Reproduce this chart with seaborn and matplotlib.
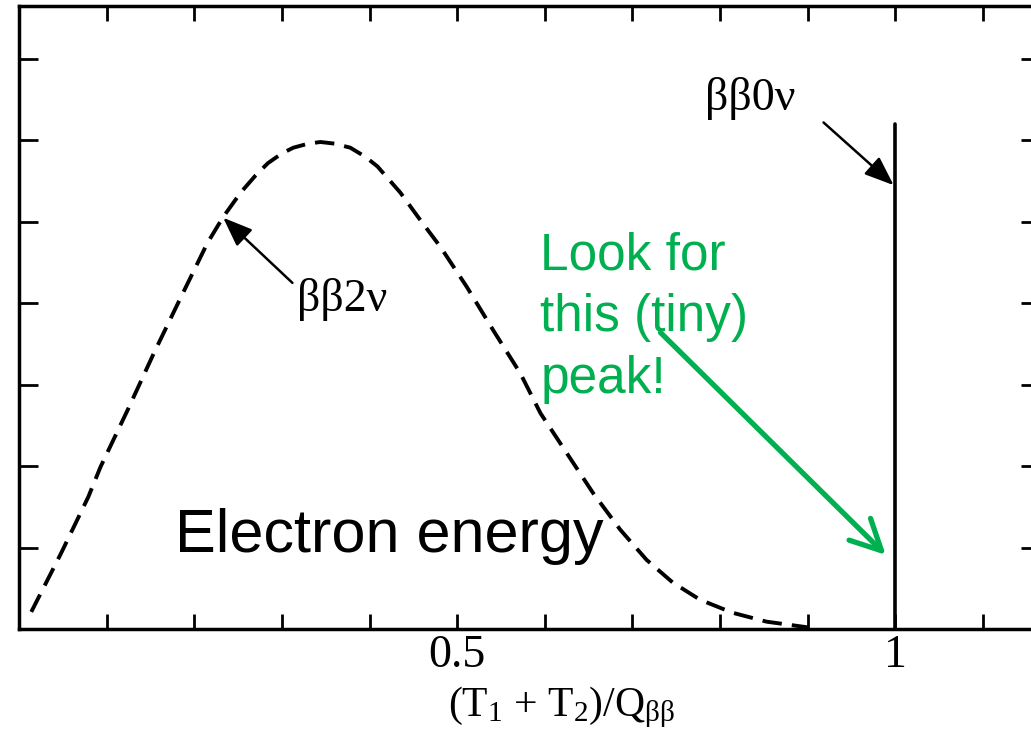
import matplotlib
matplotlib.use("Agg")
import matplotlib.pyplot as plt
import seaborn as sns
import pandas as pd
import numpy as np

# --- data ---
x_2nu = [0.014, 0.048, 0.079, 0.093, 0.124, 0.154, 0.185, 0.215, 0.233, 0.253,
         0.270, 0.284, 0.300, 0.313, 0.330, 0.344, 0.360, 0.378, 0.395, 0.409,
         0.435, 0.458, 0.481, 0.511, 0.541, 0.572, 0.595, 0.625, 0.655, 0.686,
         0.716, 0.746, 0.777, 0.814, 0.853, 0.880, 0.900]
y_2nu = [0.21, 0.93, 1.62, 1.99, 2.69, 3.39, 4.08, 4.74, 5.06, 5.36,
         5.57, 5.72, 5.84, 5.91, 5.96, 5.98, 5.96, 5.91, 5.80, 5.68,
         5.36, 5.02, 4.69, 4.20, 3.67, 3.14, 2.65, 2.16, 1.67, 1.22,
         0.85, 0.57, 0.36, 0.20, 0.09, 0.05, 0.02]
x_0nu = [1.0, 1.0]
y_0nu = [0.0, 6.2]
xtick_major = [0.5, 1.0]
xtick_labels = ["0.5", "1"]
xtick_minor = [0.1, 0.2, 0.3, 0.4, 0.6, 0.7, 0.8, 0.9, 1.1]
ytick_pos = [1, 2, 3, 4, 5, 6, 7]

sns.set_theme(style="white")
plt.rcParams["font.family"] = ["Liberation Serif", "DejaVu Serif"]
plt.rcParams["mathtext.fontset"] = "custom"
plt.rcParams["mathtext.rm"] = "Liberation Serif"
plt.rcParams["mathtext.it"] = "Liberation Serif"

W, H = 1031, 739
fig = plt.figure(figsize=(W / 100, H / 100), dpi=100)
ax = fig.add_axes([19 / W, (H - 629) / H, 1021 / W, 623 / H])

df2 = pd.DataFrame({"x": x_2nu, "y": y_2nu})
sns.lineplot(data=df2, x="x", y="y", ax=ax, sort=False, estimator=None,
             color="black", lw=2.8, linestyle=(0, (5, 2.6)))
df0 = pd.DataFrame({"x": x_0nu, "y": y_0nu})
sns.lineplot(data=df0, x="x", y="y", ax=ax, sort=False, estimator=None,
             color="black", lw=2.6)

ax.set_xlim(0, 1.165)
ax.set_ylim(0, 7.65)

for s in ax.spines.values():
    s.set_linewidth(2.5)
    s.set_color("black")

ax.set_xticks(xtick_major)
ax.set_xticklabels(xtick_labels)
ax.set_xticks(xtick_minor, minor=True)
ax.set_yticks(ytick_pos)
ax.set_yticklabels([])
ax.tick_params(axis="x", which="both", direction="in", top=True, bottom=True,
               length=11, width=2, color="black", labelsize=33, pad=4,
               labelcolor="black")
ax.tick_params(axis="y", which="both", direction="in", left=True, right=True,
               length=14, width=2, color="black")
ax.set_ylabel("")
ax.set_xlabel(r"(T$_1$ + T$_2$)/Q$_{\beta\beta}$", fontsize=30, color="black")
ax.xaxis.set_label_coords(0.531, -0.090)
ax.xaxis.label.set_va("top")

# annotations
ax.annotate("", xy=(0.998, 5.45), xytext=(0.918, 6.22),
            arrowprops=dict(arrowstyle="-|>,head_length=0.9,head_width=0.35",
                            color="black", lw=1.8, shrinkA=0, shrinkB=0,
                            mutation_scale=20))
ax.text(0.834, 6.52, "ββ0ν", fontsize=33, ha="center", va="center", color="black")
ax.annotate("", xy=(0.233, 5.05), xytext=(0.312, 4.25),
            arrowprops=dict(arrowstyle="-|>,head_length=0.9,head_width=0.35",
                            color="black", lw=1.8, shrinkA=0, shrinkB=0,
                            mutation_scale=20))
ax.text(0.369, 4.04, "ββ2ν", fontsize=33, ha="center", va="center", color="black")

green = "#00B050"
ax.text(0.595, 2.90, "Look for\nthis (tiny)\npeak!", fontsize=37, color=green,
        family="Liberation Sans", ha="left", va="baseline", linespacing=1.33)
ax.annotate("", xy=(0.989, 0.91), xytext=(0.732, 3.64),
            arrowprops=dict(arrowstyle="->,head_length=1.1,head_width=0.55",
                            color=green, lw=3.8, shrinkA=0, shrinkB=0,
                            mutation_scale=20))
ax.text(0.178, 0.95, "Electron energy", fontsize=44, color="black",
        family="Liberation Sans", ha="left", va="baseline")

fig.savefig("out.png", dpi=100, facecolor="white")
